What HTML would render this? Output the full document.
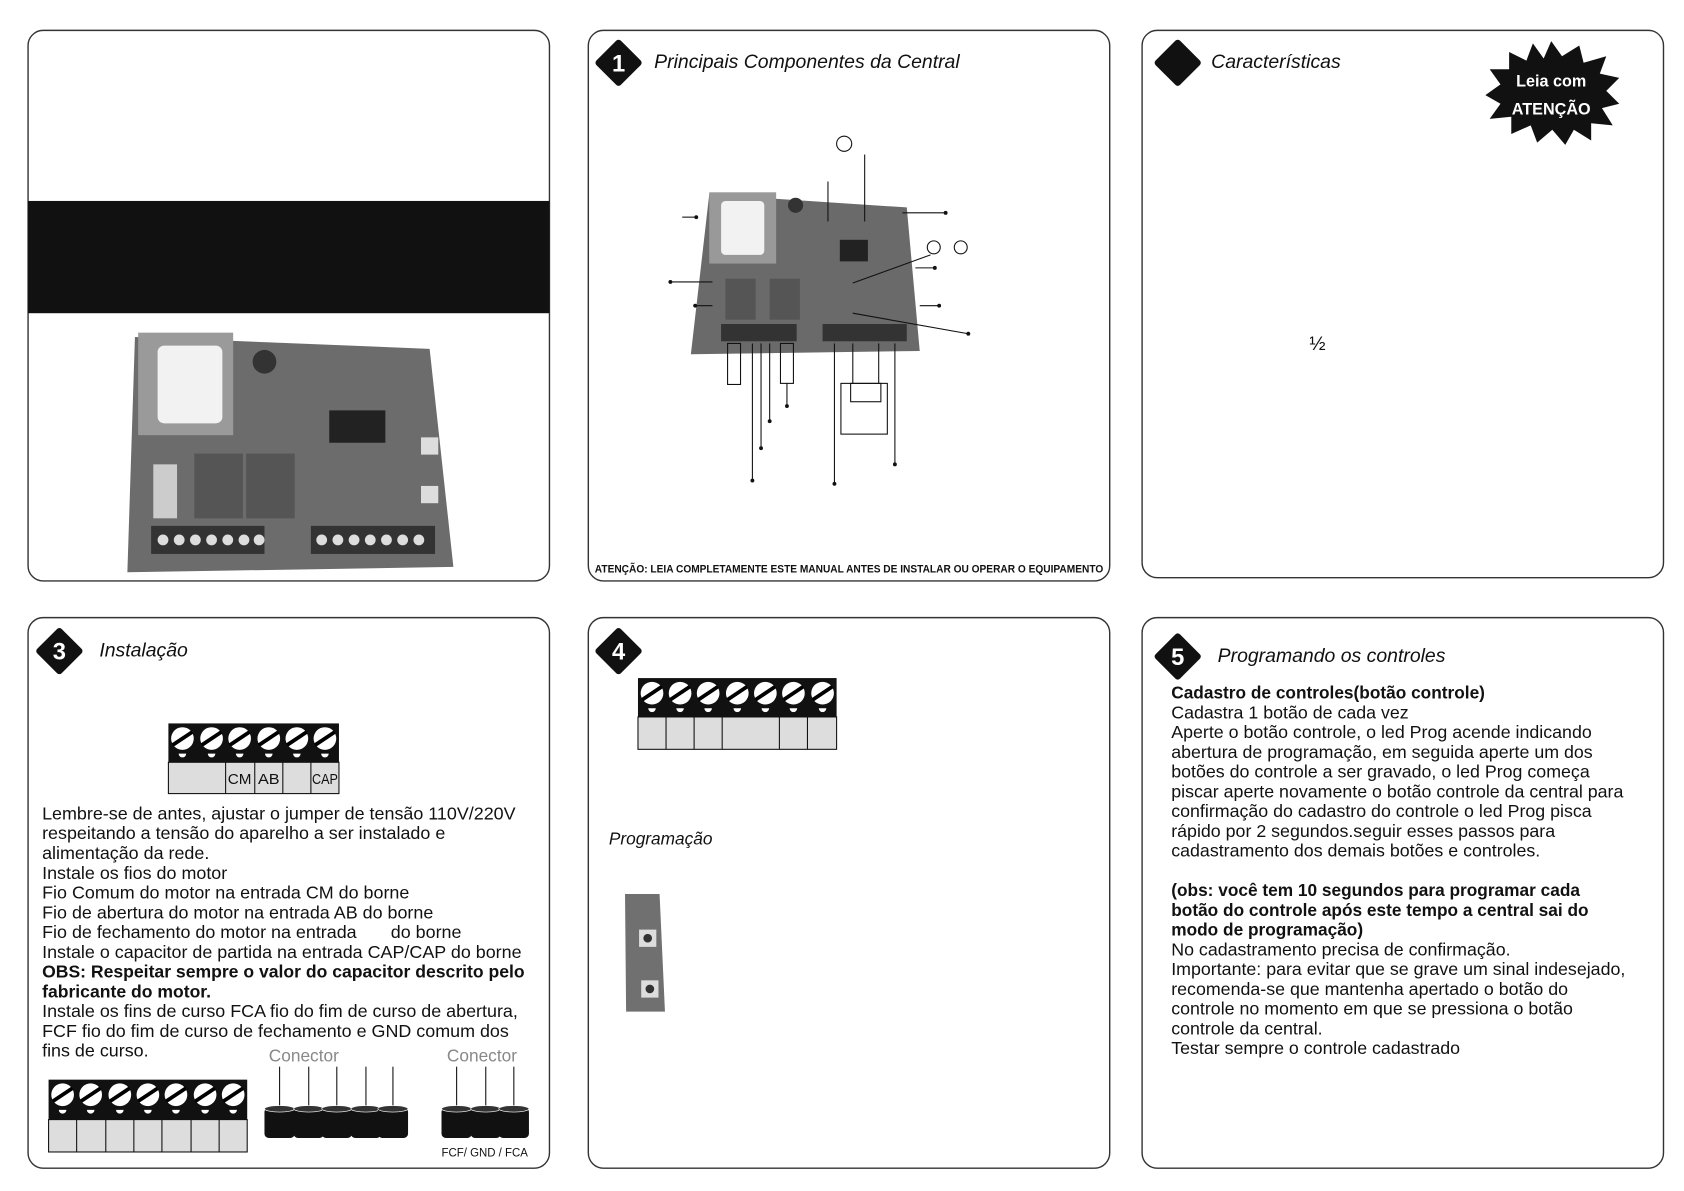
<!DOCTYPE html>
<html><head><meta charset="utf-8"><style>
html,body{margin:0;padding:0;background:#fff;}
svg{display:block;}
text{font-family:"Liberation Sans",sans-serif;}
</style></head><body>
<svg width="1684" height="1191" viewBox="0 0 1560 1103" xmlns="http://www.w3.org/2000/svg">
<defs>
<g id="scr"><circle cx="0" cy="0" r="10.5" fill="#fff"/><line x1="-9" y1="6" x2="9" y2="-6" stroke="#000" stroke-width="3.5"/><path d="M-3.5 14 a3.5 3.5 0 0 0 7 0 z" fill="#fff"/></g>
<g id="dia"><rect x="-16" y="-16" width="32" height="32" rx="3" fill="#111" transform="rotate(45)"/></g>
<g id="cyl"><rect x="-14" y="0" width="28" height="28" rx="4" fill="#111"/><ellipse cx="0" cy="1" rx="14" ry="3" fill="#333" stroke="#fff" stroke-width="0.6"/></g>
</defs>
<g fill="none" stroke="#333" stroke-width="1.3">
<rect x="26" y="28" width="483" height="510" rx="14"/>
<rect x="545" y="28" width="483" height="510" rx="14"/>
<rect x="1058" y="28" width="483" height="507" rx="14"/>
<rect x="26" y="572" width="483" height="510" rx="14"/>
<rect x="545" y="572" width="483" height="510" rx="14"/>
<rect x="1058" y="572" width="483" height="510" rx="14"/>
</g>

<!-- Panel A -->
<rect x="26" y="186" width="483" height="104" fill="#111"/>
<polygon points="125,312 398,323 420,525 118,530" fill="#6c6c6c"/>
<rect x="128" y="308" width="88" height="95" fill="#9a9a9a"/>
<rect x="146" y="320" width="60" height="72" rx="6" fill="#f2f2f2"/>
<circle cx="245" cy="335" r="11" fill="#333"/>
<rect x="305" y="380" width="52" height="30" fill="#222"/>
<rect x="180" y="420" width="45" height="60" fill="#555"/>
<rect x="228" y="420" width="45" height="60" fill="#555"/>
<rect x="142" y="430" width="22" height="50" fill="#ccc"/>
<rect x="390" y="405" width="16" height="16" fill="#ddd"/><rect x="390" y="450" width="16" height="16" fill="#ddd"/>
<rect x="140" y="487" width="105" height="26" fill="#333"/>
<rect x="288" y="487" width="115" height="26" fill="#333"/>
<g fill="#ddd"><circle cx="151" cy="500" r="5"/><circle cx="166" cy="500" r="5"/><circle cx="181" cy="500" r="5"/><circle cx="196" cy="500" r="5"/><circle cx="211" cy="500" r="5"/><circle cx="226" cy="500" r="5"/><circle cx="240" cy="500" r="5"/>
<circle cx="298" cy="500" r="5"/><circle cx="313" cy="500" r="5"/><circle cx="328" cy="500" r="5"/><circle cx="343" cy="500" r="5"/><circle cx="358" cy="500" r="5"/><circle cx="373" cy="500" r="5"/><circle cx="388" cy="500" r="5"/></g>

<!-- Panel B -->
<use href="#dia" x="573" y="58"/>
<text x="573" y="66" font-size="22" font-weight="bold" fill="#fff" text-anchor="middle">1</text>
<text x="606" y="63" font-size="18" font-style="italic" fill="#111">Principais Componentes da Central</text>
<polygon points="657,180 840,192 852,325 640,328" fill="#6a6a6a"/>
<rect x="657" y="178" width="62" height="66" fill="#999"/>
<rect x="668" y="186" width="40" height="50" rx="4" fill="#f2f2f2"/>
<circle cx="737" cy="190" r="7" fill="#333"/>
<rect x="778" y="222" width="26" height="20" fill="#222"/>
<rect x="672" y="258" width="28" height="38" fill="#555"/><rect x="713" y="258" width="28" height="38" fill="#555"/>
<rect x="668" y="300" width="70" height="16" fill="#333"/><rect x="762" y="300" width="78" height="16" fill="#333"/>
<g stroke="#111" stroke-width="1" fill="none">
<rect x="674" y="318" width="12" height="38"/><line x1="697" y1="318" x2="697" y2="445"/><line x1="705" y1="318" x2="705" y2="415"/><line x1="713" y1="318" x2="713" y2="390"/><rect x="723" y="318" width="12" height="37"/><line x1="729" y1="355" x2="729" y2="376"/>
<line x1="773" y1="318" x2="773" y2="448"/><rect x="779" y="355" width="43" height="47"/><rect x="788" y="355" width="28" height="17"/><line x1="790" y1="318" x2="790" y2="355"/><line x1="814" y1="318" x2="814" y2="355"/><line x1="829" y1="318" x2="829" y2="430"/>
<circle cx="782" cy="133" r="7"/><line x1="767" y1="168" x2="767" y2="205"/><line x1="801" y1="143" x2="801" y2="205"/>
<line x1="836" y1="197" x2="876" y2="197"/>
<circle cx="865" cy="229" r="6"/><circle cx="890" cy="229" r="6"/>
<line x1="862" y1="236" x2="790" y2="262"/>
<line x1="848" y1="248" x2="866" y2="248"/><line x1="852" y1="283" x2="870" y2="283"/>
<line x1="790" y1="290" x2="897" y2="309"/>
<line x1="632" y1="201" x2="645" y2="201"/><line x1="621" y1="261" x2="660" y2="261"/><line x1="644" y1="283" x2="660" y2="283"/>
</g>
<g fill="#111"><circle cx="876" cy="197" r="1.8"/><circle cx="866" cy="248" r="1.8"/><circle cx="870" cy="283" r="1.8"/><circle cx="897" cy="309" r="1.8"/><circle cx="645" cy="201" r="1.8"/><circle cx="621" cy="261" r="1.8"/><circle cx="644" cy="283" r="1.8"/><circle cx="697" cy="445" r="1.8"/><circle cx="705" cy="415" r="1.8"/><circle cx="713" cy="390" r="1.8"/><circle cx="729" cy="376" r="1.8"/><circle cx="773" cy="448" r="1.8"/><circle cx="829" cy="430" r="1.8"/></g>
<text x="551" y="530" font-size="10" font-weight="bold" fill="#111" textLength="471" lengthAdjust="spacingAndGlyphs">ATENÇÃO: LEIA COMPLETAMENTE ESTE MANUAL ANTES DE INSTALAR OU OPERAR O EQUIPAMENTO</text>

<!-- Panel C -->
<use href="#dia" x="1091" y="58"/>
<text x="1122" y="63" font-size="18" font-style="italic" fill="#111">Características</text>
<polygon points="1437,38 1447,52 1463,42 1467,58 1488,52 1482,68 1500,72 1488,84 1500,96 1484,100 1494,116 1474,114 1474,130 1458,120 1450,134 1438,120 1424,132 1418,116 1400,124 1400,108 1380,110 1390,96 1376,88 1390,78 1380,64 1398,64 1398,48 1414,56 1420,40 1430,54" fill="#111"/>
<text x="1437" y="80" font-size="15" font-weight="bold" fill="#fff" text-anchor="middle">Leia com</text>
<text x="1437" y="106" font-size="15" font-weight="bold" fill="#fff" text-anchor="middle">ATENÇÃO</text>
<text x="1213" y="324" font-size="18" fill="#111">½</text>

<!-- Panel D -->
<use href="#dia" x="55" y="603"/>
<text x="55" y="611" font-size="22" font-weight="bold" fill="#fff" text-anchor="middle">3</text>
<text x="92" y="608" font-size="18" font-style="italic" fill="#111">Instalação</text>
<rect x="156" y="670" width="158" height="36" fill="#111"/>
<rect x="156" y="706" width="158" height="29" fill="#ddd" stroke="#111"/>
<g stroke="#111"><line x1="209" y1="706" x2="209" y2="735"/><line x1="236" y1="706" x2="236" y2="735"/><line x1="262" y1="706" x2="262" y2="735"/><line x1="288" y1="706" x2="288" y2="735"/></g>
<use href="#scr" x="169" y="684"/><use href="#scr" x="196" y="684"/><use href="#scr" x="222" y="684"/><use href="#scr" x="249" y="684"/><use href="#scr" x="275" y="684"/><use href="#scr" x="301" y="684"/>
<g font-size="14" fill="#111" text-anchor="middle"><text x="222" y="726" textLength="22" lengthAdjust="spacingAndGlyphs">CM</text><text x="249" y="726" textLength="20" lengthAdjust="spacingAndGlyphs">AB</text><text x="301" y="726" textLength="24" lengthAdjust="spacingAndGlyphs">CAP</text></g>
<g font-size="16.6" fill="#111">
<text x="39" y="759">Lembre-se de antes, ajustar o jumper de tensão 110V/220V</text>
<text x="39" y="777.3">respeitando a tensão do aparelho a ser instalado e</text>
<text x="39" y="795.6">alimentação da rede.</text>
<text x="39" y="813.9">Instale os fios do motor</text>
<text x="39" y="832.2">Fio Comum do motor na entrada CM do borne</text>
<text x="39" y="850.5">Fio de abertura do motor  na entrada AB do borne</text>
<text x="39" y="868.8">Fio de fechamento do motor na entrada</text><text x="362" y="868.8">do borne</text>
<text x="39" y="887.1">Instale o capacitor de partida na entrada CAP/CAP do borne</text>
<text x="39" y="905.4" font-weight="bold" font-size="16.3">OBS: Respeitar sempre o valor do capacitor descrito pelo</text>
<text x="39" y="923.7" font-weight="bold" font-size="16.3">fabricante do motor.</text>
<text x="39" y="942">Instale os fins de curso FCA fio do fim de curso de abertura,</text>
<text x="39" y="960.3">FCF fio do fim de curso de fechamento e GND comum dos</text>
<text x="39" y="978.6">fins de curso.</text>
</g>
<rect x="45" y="1000" width="184" height="37" fill="#111"/>
<rect x="45" y="1037" width="184" height="30" fill="#ddd" stroke="#111"/>
<g stroke="#111"><line x1="71" y1="1037" x2="71" y2="1067"/><line x1="98" y1="1037" x2="98" y2="1067"/><line x1="124" y1="1037" x2="124" y2="1067"/><line x1="150" y1="1037" x2="150" y2="1067"/><line x1="177" y1="1037" x2="177" y2="1067"/><line x1="203" y1="1037" x2="203" y2="1067"/></g>
<use href="#scr" x="58" y="1014"/><use href="#scr" x="84" y="1014"/><use href="#scr" x="111" y="1014"/><use href="#scr" x="137" y="1014"/><use href="#scr" x="163" y="1014"/><use href="#scr" x="190" y="1014"/><use href="#scr" x="216" y="1014"/>
<text x="249" y="983" font-size="16" fill="#888">Conector</text>
<text x="414" y="983" font-size="16" fill="#888">Conector</text>
<g stroke="#111" stroke-width="1"><line x1="259" y1="988" x2="259" y2="1027"/><line x1="286" y1="988" x2="286" y2="1027"/><line x1="312" y1="988" x2="312" y2="1027"/><line x1="339" y1="988" x2="339" y2="1027"/><line x1="364" y1="988" x2="364" y2="1027"/>
<line x1="423" y1="988" x2="423" y2="1027"/><line x1="450" y1="988" x2="450" y2="1027"/><line x1="476" y1="988" x2="476" y2="1027"/></g>
<use href="#cyl" x="259" y="1026"/><use href="#cyl" x="286" y="1026"/><use href="#cyl" x="312" y="1026"/><use href="#cyl" x="339" y="1026"/><use href="#cyl" x="364" y="1026"/>
<use href="#cyl" x="423" y="1026"/><use href="#cyl" x="450" y="1026"/><use href="#cyl" x="476" y="1026"/>
<text x="409" y="1071" font-size="11" fill="#111" textLength="80" lengthAdjust="spacingAndGlyphs">FCF/ GND / FCA</text>

<!-- Panel E -->
<use href="#dia" x="573" y="603"/>
<text x="573" y="611" font-size="22" font-weight="bold" fill="#fff" text-anchor="middle">4</text>
<rect x="591" y="628" width="184" height="36" fill="#111"/>
<rect x="591" y="664" width="184" height="30" fill="#ddd" stroke="#111"/>
<g stroke="#111"><line x1="617" y1="664" x2="617" y2="694"/><line x1="643" y1="664" x2="643" y2="694"/><line x1="669" y1="664" x2="669" y2="694"/><line x1="722" y1="664" x2="722" y2="694"/><line x1="748" y1="664" x2="748" y2="694"/></g>
<use href="#scr" x="604" y="642"/><use href="#scr" x="630" y="642"/><use href="#scr" x="656" y="642"/><use href="#scr" x="683" y="642"/><use href="#scr" x="709" y="642"/><use href="#scr" x="735" y="642"/><use href="#scr" x="762" y="642"/>
<text x="564" y="782" font-size="16" font-style="italic" fill="#111">Programação</text>
<polygon points="579,828 611,828 616,937 580,937" fill="#707070"/>
<rect x="592" y="861" width="16" height="16" fill="#ddd"/><circle cx="600" cy="869" r="4" fill="#333"/>
<rect x="594" y="908" width="16" height="16" fill="#ddd"/><circle cx="602" cy="916" r="4" fill="#333"/>

<!-- Panel F -->
<use href="#dia" x="1091" y="608"/>
<text x="1091" y="616" font-size="22" font-weight="bold" fill="#fff" text-anchor="middle">5</text>
<text x="1128" y="613" font-size="18" font-style="italic" fill="#111">Programando os controles</text>
<g font-size="16.5" fill="#111">
<text x="1085" y="647" font-weight="bold" font-size="16">Cadastro de controles(botão controle)</text>
<text x="1085" y="665.3">Cadastra 1 botão de cada vez</text>
<text x="1085" y="683.6">Aperte o botão controle, o led Prog acende indicando</text>
<text x="1085" y="701.9">abertura de programação, em seguida aperte um dos</text>
<text x="1085" y="720.2">botões do controle a ser gravado, o led Prog começa</text>
<text x="1085" y="738.5">piscar aperte novamente o botão controle da central para</text>
<text x="1085" y="756.8">confirmação do cadastro do controle  o led Prog pisca</text>
<text x="1085" y="775.1">rápido por 2 segundos.seguir esses passos para</text>
<text x="1085" y="793.4">cadastramento dos demais botões e controles.</text>
<text x="1085" y="830" font-weight="bold" font-size="16">(obs: você tem 10 segundos para programar cada</text>
<text x="1085" y="848.3" font-weight="bold" font-size="16">botão do controle após este tempo a central sai do</text>
<text x="1085" y="866.6" font-weight="bold" font-size="16">modo de  programação)</text>
<text x="1085" y="884.9">No cadastramento precisa de confirmação.</text>
<text x="1085" y="903.2">Importante: para evitar que se grave um sinal indesejado,</text>
<text x="1085" y="921.5">recomenda-se que mantenha apertado o botão do</text>
<text x="1085" y="939.8">controle no momento em que se pressiona o botão</text>
<text x="1085" y="958.1">controle da central.</text>
<text x="1085" y="976.4">Testar sempre o controle cadastrado</text>
</g>
</svg>
</body></html>
